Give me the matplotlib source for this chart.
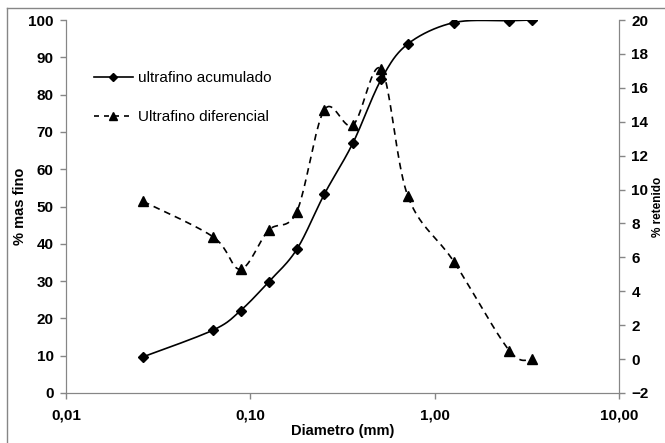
import numpy as np
import matplotlib.pyplot as plt
from matplotlib.lines import Line2D
from matplotlib.ticker import FixedLocator, FixedFormatter, NullLocator

plt.rcParams["font.family"] = ["Liberation Sans", "DejaVu Sans"]

# diameters (mm)
diametro = [0.0262, 0.063, 0.0885, 0.1257, 0.1786, 0.252, 0.36, 0.513, 0.716, 1.27, 2.54, 3.38]
acumulado = [9.7, 16.9, 22.1, 29.8, 38.5, 53.3, 67.0, 84.1, 93.6, 99.3, 99.8, 100.0]
diferencial = [9.3, 7.2, 5.3, 7.6, 8.7, 14.7, 13.8, 17.1, 9.6, 5.75, 0.5, 0.0]

x_ticks = [0.01, 0.1, 1, 10]
x_labels = ["0,01", "0,10", "1,00", "10,00"]
left_ticks = list(range(0, 101, 10))
right_ticks = list(range(-2, 21, 2))

GRAY = "#868686"


def smooth(x, y, n=20, tension=0.5):
    """Cardinal curve through the points in log-x space (like Excel smoothing)."""
    lx = np.log10(np.asarray(x, float))
    yy = np.asarray(y, float)
    px = np.concatenate([[lx[0]], lx, [lx[-1]]])
    py = np.concatenate([[yy[0]], yy, [yy[-1]]])
    ox, oy = [], []
    t = np.linspace(0, 1, n, endpoint=False)
    h00 = 2 * t ** 3 - 3 * t ** 2 + 1
    h10 = t ** 3 - 2 * t ** 2 + t
    h01 = -2 * t ** 3 + 3 * t ** 2
    h11 = t ** 3 - t ** 2
    for i in range(1, len(px) - 2):
        for p, out in ((px, ox), (py, oy)):
            m1 = tension * (p[i + 1] - p[i - 1])
            m2 = tension * (p[i + 2] - p[i])
            out.extend(h00 * p[i] + h10 * m1 + h01 * p[i + 1] + h11 * m2)
    ox.append(lx[-1])
    oy.append(yy[-1])
    return 10 ** np.array(ox), np.array(oy)


fig = plt.figure(figsize=(6.65, 4.43), dpi=100)
ax = fig.add_axes([66 / 665, 1 - 393 / 443, 553 / 665, 373 / 443])
ax2 = ax.twinx()

sx, sy = smooth(diametro, acumulado)
ax.plot(sx, sy, color="black", lw=1.2)
ax.plot(diametro, acumulado, ls="none", marker="D", ms=5, color="black")

dx, dy = smooth(diametro, diferencial)
ax2.plot(dx, dy, color="black", lw=1.2, ls=(0, (4, 3)))
ax2.plot(diametro, diferencial, ls="none", marker="^", ms=7, color="black")

ax.set_xscale("log")
ax.set_xlim(0.01, 10)
ax.set_ylim(0, 100)
ax2.set_ylim(-2, 20)
ax.xaxis.set_major_locator(FixedLocator(x_ticks))
ax.xaxis.set_major_formatter(FixedFormatter(x_labels))
ax.xaxis.set_minor_locator(NullLocator())
ax.set_yticks(left_ticks)
ax2.set_yticks(right_ticks)

for a in (ax, ax2):
    for s in a.spines.values():
        s.set_color(GRAY)
    a.spines["top"].set_visible(False)
    a.tick_params(colors=GRAY, length=4, width=1, labelcolor="black", labelsize=11)
    for lab in a.get_xticklabels() + a.get_yticklabels():
        lab.set_fontweight("bold")
ax.tick_params(axis="x", pad=7)
ax.tick_params(axis="y", pad=5)
ax2.tick_params(axis="y", pad=5)

ax.set_xlabel("Diametro (mm)", fontsize=10.5, fontweight="bold", labelpad=1)
ax.set_ylabel("% mas fino", fontsize=10.5, fontweight="bold", labelpad=1)
ax2.set_ylabel("% retenido", fontsize=8.5, fontweight="bold", labelpad=2)

handles = [
    Line2D([], [], color="black", lw=1.2, marker="D", ms=4),
    Line2D([], [], color="black", lw=1.2, ls=(0, (3, 3)), marker="^", ms=6),
]
ax2.legend(handles, ["ultrafino acumulado", "Ultrafino diferencial"],
           loc="upper left", bbox_to_anchor=(0.025, 0.9), frameon=False,
           fontsize=11, handlelength=2.6, handletextpad=0.3, labelspacing=1.65)

# chart area border (top and left)
fig.add_artist(Line2D([7 / 665, 1], [1 - 8 / 443, 1 - 8 / 443], color=GRAY, lw=1))
fig.add_artist(Line2D([7 / 665, 7 / 665], [0, 1 - 8 / 443], color=GRAY, lw=1))

fig.savefig("out.png", dpi=100, facecolor="white")
